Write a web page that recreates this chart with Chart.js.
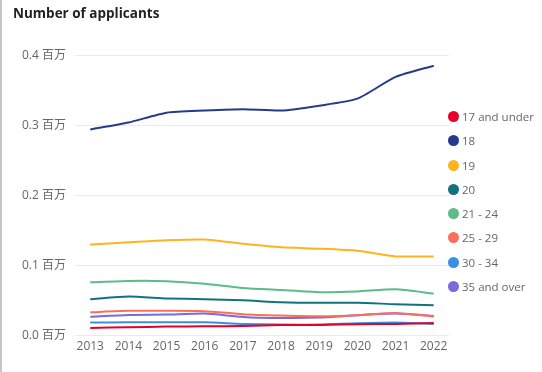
<!DOCTYPE html>
<html>
<head>
<meta charset="utf-8">
<script src="https://cdn.jsdelivr.net/npm/chart.js@4/dist/chart.umd.min.js"></script>
<style>
  html, body { margin: 0; padding: 0; background: #fff; }
  #wrap { position: relative; width: 542px; height: 372px; box-sizing: border-box; border-left: 2px solid #c6c6c6; }
  canvas { display: block; }
  #legend { position: absolute; left: 446px; top: 110px; margin: 0; padding: 0; list-style: none;
            font: 11.5px "Segoe UI", "Open Sans", sans-serif; color: #666; }
  #legend li { height: 24.3px; line-height: 14px; display: flex; align-items: flex-start; white-space: nowrap; }
  #legend i { display: inline-block; width: 11px; height: 11px; border-radius: 50%; margin: 1px 3px 0 0; }
</style>
</head>
<body>
<div id="wrap"><canvas id="c" width="540" height="372"></canvas><ul id="legend"></ul></div>
<script>
  // 연도 (x축)
  const years = [2013, 2014, 2015, 2016, 2017, 2018, 2019, 2020, 2021, 2022];
  // 연령대 (범례)
  const groups = ['17 and under', '18', '19', '20', '21 - 24', '25 - 29', '30 - 34', '35 and over'];
  const colors = ['#e4002b', '#243b8c', '#ffb31c', '#12737e', '#5bbb8b', '#fa6f5c', '#3c8fde', '#7c69da'];

  // 지원자 수 (백만 단위) — 그림에서 읽은 값
  const under17 = [0.0110, 0.0119, 0.0129, 0.0133, 0.0138, 0.0152, 0.0152, 0.0162, 0.0167, 0.0180];
  const age18   = [0.294, 0.304, 0.318, 0.321, 0.323, 0.321, 0.328, 0.338, 0.369, 0.385];
  const age19   = [0.130, 0.133, 0.136, 0.137, 0.131, 0.126, 0.124, 0.121, 0.113, 0.113];
  const age20   = [0.052, 0.0557, 0.053, 0.052, 0.0504, 0.0476, 0.0467, 0.047, 0.0447, 0.0433];
  const age2124 = [0.076, 0.078, 0.0776, 0.074, 0.068, 0.065, 0.062, 0.063, 0.066, 0.060];
  const age2529 = [0.0333, 0.0353, 0.0353, 0.0348, 0.0305, 0.0286, 0.0276, 0.029, 0.0324, 0.0271];
  const age3034 = [0.0186, 0.019, 0.019, 0.019, 0.0167, 0.0157, 0.0157, 0.0176, 0.0186, 0.0167];
  const age35   = [0.027, 0.0295, 0.030, 0.0314, 0.0267, 0.0252, 0.0257, 0.029, 0.0314, 0.028];

  const yTicks = [0, 0.1, 0.2, 0.3, 0.4];

  const series = [under17, age18, age19, age20, age2124, age2529, age3034, age35];
  const FONT = '"Segoe UI", "Open Sans", "Noto Sans CJK SC", sans-serif';

  const datasets = series.map((vals, i) => ({
    label: groups[i],
    data: vals.map((v, j) => ({ x: years[j], y: v })),
    borderColor: colors[i],
    backgroundColor: colors[i],
    borderWidth: 2,
    pointRadius: 0,
    tension: 0.2,
  }));

  // 범례는 HTML로 (위치를 정확히 맞추기 위해)
  const legend = document.getElementById('legend');
  groups.forEach((g, i) => {
    const li = document.createElement('li');
    const dot = document.createElement('i');
    dot.style.background = colors[i];
    li.appendChild(dot);
    li.appendChild(document.createTextNode(g));
    legend.appendChild(li);
  });

  new Chart(document.getElementById('c'), {
    type: 'line',
    data: { datasets },
    options: {
      responsive: false,
      animation: false,
      layout: { padding: { left: 11, right: 93, top: 4, bottom: 14 } },
      plugins: {
        title: {
          display: true, text: 'Number of applicants', align: 'start',
          color: '#222', font: { family: FONT, size: 13.5, weight: 'bold' },
          padding: { top: 2, bottom: 33 },
        },
        legend: { display: false },
        tooltip: { enabled: false },
      },
      scales: {
        x: {
          type: 'linear', min: years[0] - 0.4, max: years[years.length - 1] + 0.4,
          afterBuildTicks: ax => { ax.ticks = years.map(v => ({ value: v })); },
          ticks: { color: '#666', font: { family: FONT, size: 12 }, callback: v => String(v), padding: 4 },
          grid: { display: false, drawTicks: false }, border: { display: false },
        },
        y: {
          min: 0, max: 0.4,
          afterBuildTicks: ax => { ax.ticks = yTicks.map(v => ({ value: v })); },
          ticks: { color: '#666', font: { family: FONT, size: 12 }, padding: 9,
                   callback: v => v.toFixed(1) + ' 百万' },
          grid: { color: '#ebebeb', drawTicks: false }, border: { display: false },
        },
      },
    },
  });
</script>
</body>
</html>
